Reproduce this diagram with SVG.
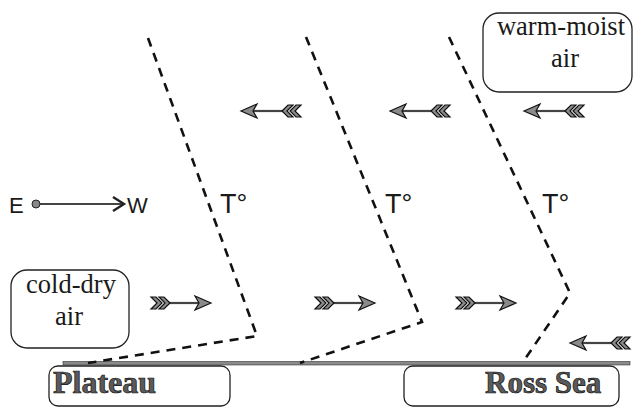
<svg xmlns="http://www.w3.org/2000/svg" xmlns:xlink="http://www.w3.org/1999/xlink" width="635" height="408" viewBox="0 0 635 408">
<style>
.box{fill:#fff;stroke:#222;stroke-width:1.3}
.lbl{font-family:"Liberation Serif","Times New Roman",serif;font-size:26.5px;fill:#1a1a1a}
.big{font-family:"Liberation Serif","Times New Roman",serif;font-weight:bold;fill:#5a5a5a;stroke:#111;stroke-width:0.7}
.sans{font-family:"Liberation Sans",Arial,sans-serif;fill:#1a1a1a}
.front{fill:none;stroke:#111;stroke-width:2.6;stroke-dasharray:9 7}
.shaft{stroke:#444;stroke-width:2.2}
.tip{fill:#8a8a8a;stroke:#111;stroke-width:1.2;stroke-linejoin:miter}
</style>
<defs>
<g id="arrowL">
<line class="shaft" x1="12" y1="0" x2="44" y2="0"/>
<polygon class="tip" points="0,0 16,-7 12,0 16,7"/>
<polygon class="tip" points="41,0 47,-6 52,-6 46,0 52,6 47,6"/>
<polygon class="tip" points="49,0 55,-6 60,-6 54,0 60,6 55,6"/>
</g>
</defs>
<rect width="635" height="408" fill="#fff"/>

<g id="ground">
<rect x="63" y="361.5" width="567" height="3.5" fill="#8a8a8a" stroke="#333" stroke-width="0.6"/>
</g>

<g id="connectors">
<polyline class="front" points="148,38 257,336 88,363"/>
<polyline class="front" points="306,37 422,322 300,363"/>
<polyline class="front" points="449,37 570,293 523,362"/>
<use xlink:href="#arrowL" transform="translate(241,111)"/>
<use xlink:href="#arrowL" transform="translate(390,111)"/>
<use xlink:href="#arrowL" transform="translate(524,111)"/>
<use xlink:href="#arrowL" transform="translate(570,343)"/>
<use xlink:href="#arrowL" transform="translate(211,303) scale(-1,1)"/>
<use xlink:href="#arrowL" transform="translate(375,303) scale(-1,1)"/>
<use xlink:href="#arrowL" transform="translate(516,303) scale(-1,1)"/>
</g>

<g id="compass">
<text class="sans" x="9" y="213" font-size="22">E</text>
<line x1="36" y1="204" x2="123" y2="204" stroke="#444" stroke-width="2.2"/>
<circle cx="36" cy="204" r="4" fill="#888" stroke="#222" stroke-width="1"/>
<polyline points="113,197 124,204 113,211" fill="none" stroke="#222" stroke-width="2.4"/>
<text class="sans" x="127" y="213" font-size="22">W</text>
</g>

<g id="temps">
<text class="sans" x="220" y="213" font-size="27">T°</text>
<text class="sans" x="385" y="213" font-size="27">T°</text>
<text class="sans" x="542" y="213" font-size="27">T°</text>
</g>

<g id="warm-moist-air">
<rect class="box" x="483" y="13" width="149" height="79" rx="16"/>
<text class="lbl" x="561" y="35" text-anchor="middle">warm-moist</text>
<text class="lbl" x="565" y="67" text-anchor="middle">air</text>
</g>

<g id="cold-dry-air">
<rect class="box" x="11" y="270" width="118" height="78" rx="16"/>
<text class="lbl" x="71" y="293" text-anchor="middle">cold-dry</text>
<text class="lbl" x="69" y="325" text-anchor="middle">air</text>
</g>

<g id="plateau">
<rect class="box" x="49" y="366" width="181" height="40" rx="9"/>
<text class="big" x="53" y="393" font-size="32">Plateau</text>
</g>

<g id="ross-sea">
<rect class="box" x="404" y="366" width="215" height="40" rx="9"/>
<text class="big" x="485" y="393" font-size="31">Ross Sea</text>
</g>
</svg>
